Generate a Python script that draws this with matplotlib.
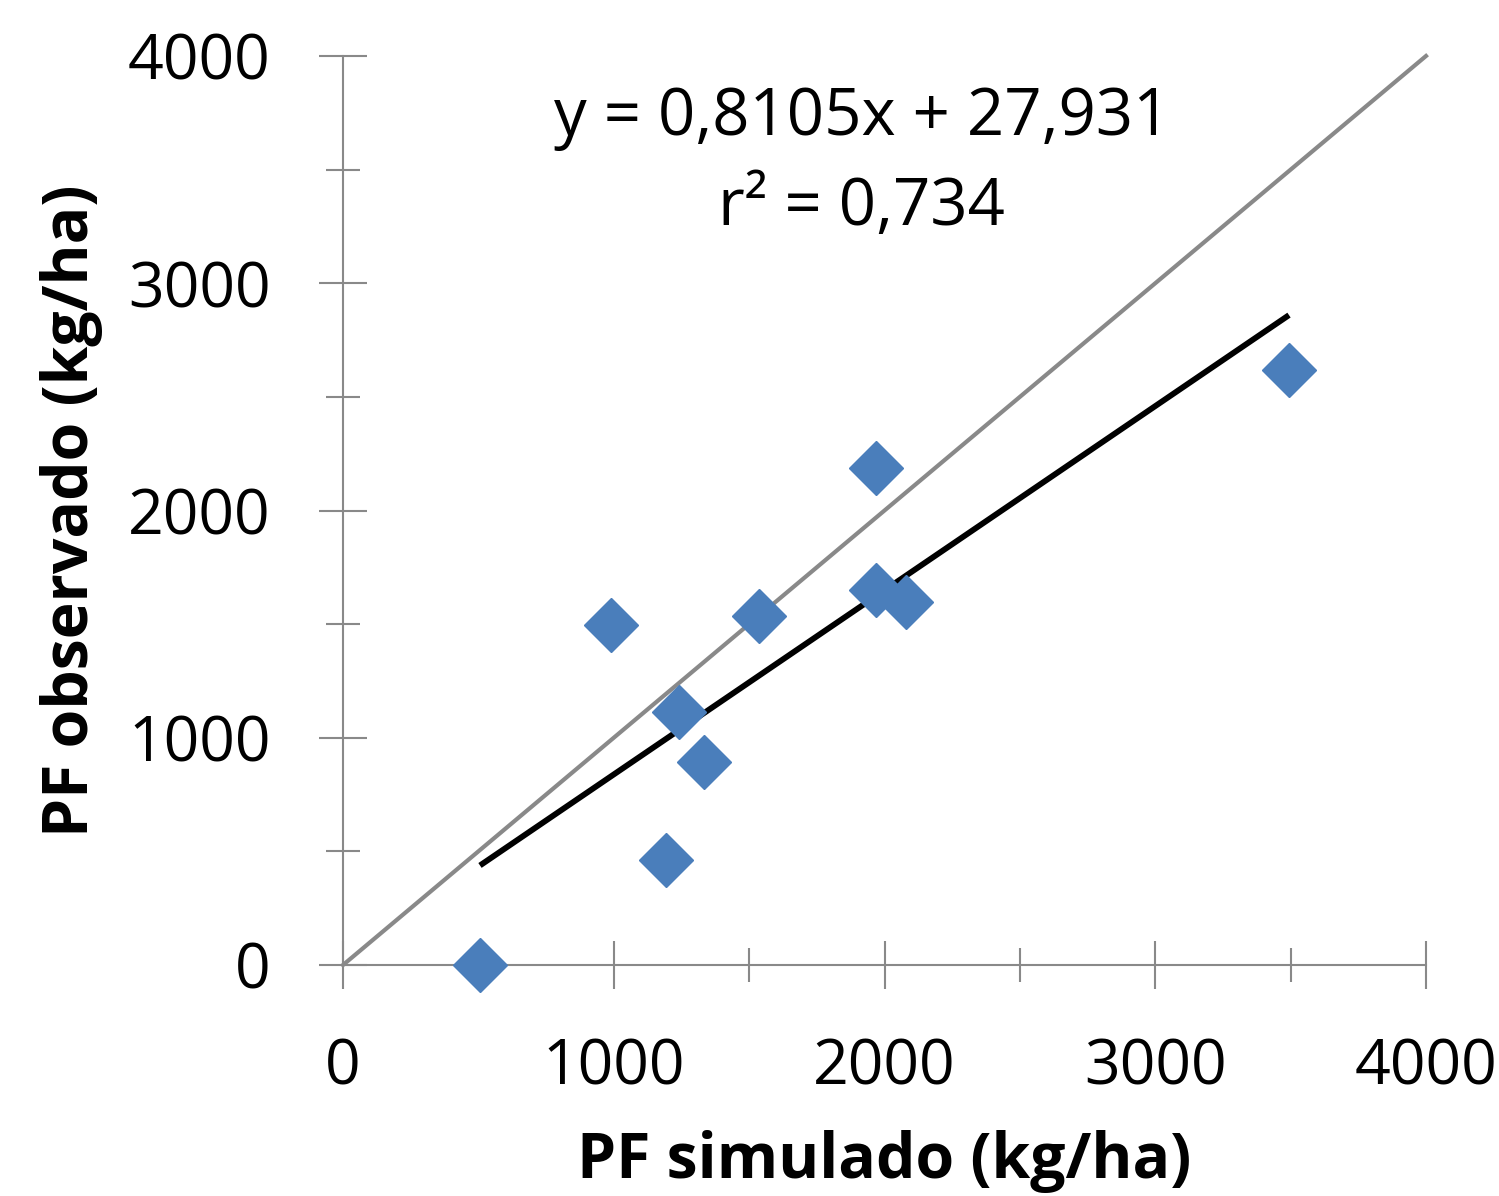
import matplotlib
matplotlib.use("Agg")
import matplotlib.pyplot as plt
from matplotlib.ticker import MultipleLocator
import numpy as np

plt.rcParams['font.family'] = ['Open Sans', 'DejaVu Sans']

# Data
pf_simulado = [506, 990, 1193, 1241, 1333, 1536, 1969, 1969, 2079, 3494]
pf_observado = [0, 1496, 462, 1113, 893, 1536, 2187, 1650, 1597, 2618]
slope = 0.8105
intercept = 27.931
r2_text = "r² = 0,734"
eq_text = "y = 0,8105x + 27,931"
x_ticks = [0, 1000, 2000, 3000, 4000]
y_ticks = [0, 1000, 2000, 3000, 4000]
one_to_one = [0, 4000]
x_label = "PF simulado (kg/ha)"
y_label = "PF observado (kg/ha)"

W, H = 1499, 1196
fig = plt.figure(figsize=(W / 100, H / 100), dpi=100)
ax = fig.add_axes([343 / W, 1 - 965 / H, 1083 / W, 909 / H])
ax.set_xlim(0, 4000)
ax.set_ylim(0, 4000)

gray = '#898989'
ax.plot(one_to_one, one_to_one, color=gray, lw=3.0, zorder=2, clip_on=False)

xfit = np.array([min(pf_simulado), max(pf_simulado)])
ax.plot(xfit, slope * xfit + intercept, color='black', lw=4.2, zorder=3,
        solid_capstyle='butt')

ax.plot(pf_simulado, pf_observado, linestyle='none', marker='D', ms=28,
        color='#4a7ebb', mec='#4a7ebb', zorder=4, clip_on=False)

for s in ['top', 'right']:
    ax.spines[s].set_visible(False)
for s in ['left', 'bottom']:
    ax.spines[s].set_color(gray)
    ax.spines[s].set_linewidth(1.5)

ax.set_xticks(x_ticks)
ax.set_yticks(y_ticks)
ax.set_xticklabels([str(v) for v in x_ticks])
ax.set_yticklabels([str(v) for v in y_ticks])
ax.xaxis.set_minor_locator(MultipleLocator(500))
ax.yaxis.set_minor_locator(MultipleLocator(500))
ax.tick_params(which='major', direction='inout', length=34, width=1.5,
               color=gray, labelsize=45, pad=35)
ax.tick_params(which='minor', direction='inout', length=25, width=1.5,
               color=gray)

ax.set_xlabel(x_label, fontsize=45, fontweight='bold')
ax.set_ylabel(y_label, fontsize=45, fontweight='bold')
ax.xaxis.set_label_coords(0.5, -0.182)
ax.yaxis.set_label_coords(-0.222, 0.5)

ax.text(0.479, 0.913, eq_text, transform=ax.transAxes, ha='center',
        va='baseline', fontsize=47)
ax.text(0.479, 0.814, r2_text, transform=ax.transAxes, ha='center',
        va='baseline', fontsize=47)

fig.savefig('out.png', dpi=100)
